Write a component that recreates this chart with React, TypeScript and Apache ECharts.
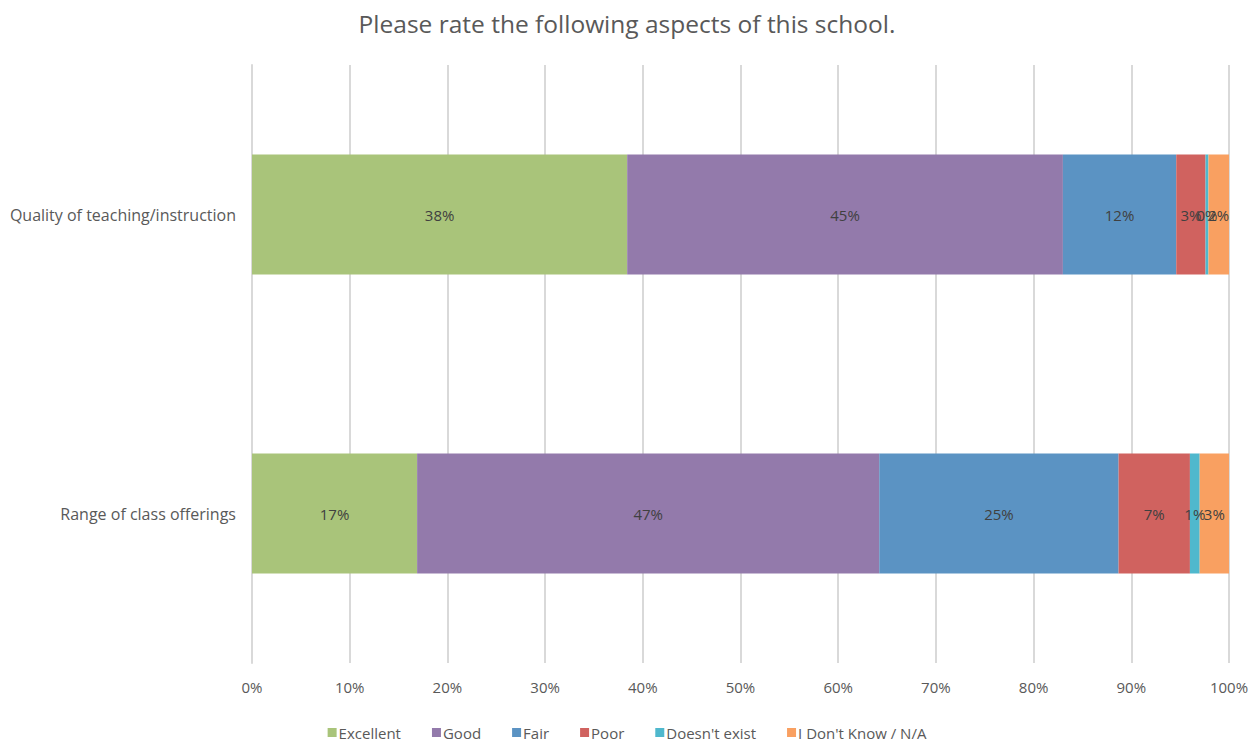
import React, { useEffect, useRef } from "react";
import * as echarts from "echarts";

const title = "Please rate the following aspects of this school.";
const categories = ["Range of class offerings", "Quality of teaching/instruction"];
const seriesNames = ["Excellent", "Good", "Fair", "Poor", "Doesn't exist", "I Don't Know / N/A"];
const excellent = [16.9, 38.4];
const good = [47.3, 44.6];
const fair = [24.5, 11.6];
const poor = [7.3, 3.0];
const doesntExist = [1.0, 0.3];
const dontKnow = [3.0, 2.1];
const xTicks = [0, 10, 20, 30, 40, 50, 60, 70, 80, 90, 100];

const colors = ["#A9C47A", "#937AAB", "#5B93C3", "#D0625F", "#4FB8CD", "#F9A061"];

export default function App() {
  const ref = useRef<HTMLDivElement>(null);
  useEffect(() => {
    if (!ref.current) return;
    const chart = echarts.init(ref.current, undefined, { renderer: "svg" });
    const values = [excellent, good, fair, poor, doesntExist, dontKnow];
    const font = "'Open Sans', 'Liberation Sans', sans-serif";
    chart.setOption({
      animation: false,
      backgroundColor: "#ffffff",
      title: {
        text: title,
        left: "center",
        top: 6,
        textStyle: { fontFamily: font, fontSize: 24.5, fontWeight: "normal", color: "#595959" },
      },
      legend: {
        bottom: 4,
        left: "center",
        itemWidth: 9,
        itemHeight: 9,
        itemGap: 31,
        icon: "rect",
        data: seriesNames,
        textStyle: { fontFamily: font, fontSize: 15, color: "#595959", padding: [0, 0, 0, -3] },
      },
      grid: { left: 252, right: 25, top: 65, bottom: 86, containLabel: false },
      xAxis: {
        type: "value",
        min: xTicks[0],
        max: xTicks[xTicks.length - 1],
        interval: 10,
        axisLabel: {
          formatter: (v: number) => v + "%",
          fontFamily: font,
          fontSize: 15,
          color: "#595959",
          margin: 16,
        },
        axisLine: { show: false },
        axisTick: { show: false },
        splitLine: { show: true, lineStyle: { color: "#D9D9D9", width: 2 } },
      },
      yAxis: {
        type: "category",
        data: categories,
        axisLine: { show: true, lineStyle: { color: "#D9D9D9", width: 2 } },
        axisTick: { show: false },
        axisLabel: { fontFamily: font, fontSize: 16, color: "#595959", margin: 16 },
      },
      series: seriesNames.map((name, i) => ({
        name,
        type: "bar",
        stack: "total",
        barWidth: 120,
        data: values[i],
        itemStyle: { color: colors[i] },
        label: {
          show: true,
          position: "inside",
          formatter: (p: any) => Math.round(p.value) + "%",
          fontFamily: font,
          fontSize: 15,
          color: "#404040",
        },
      })),
    });
    return () => chart.dispose();
  }, []);
  return (
    <div
      ref={ref}
      style={{ position: "absolute", left: 0, top: 0, width: 1254, height: 749 }}
    />
  );
}
